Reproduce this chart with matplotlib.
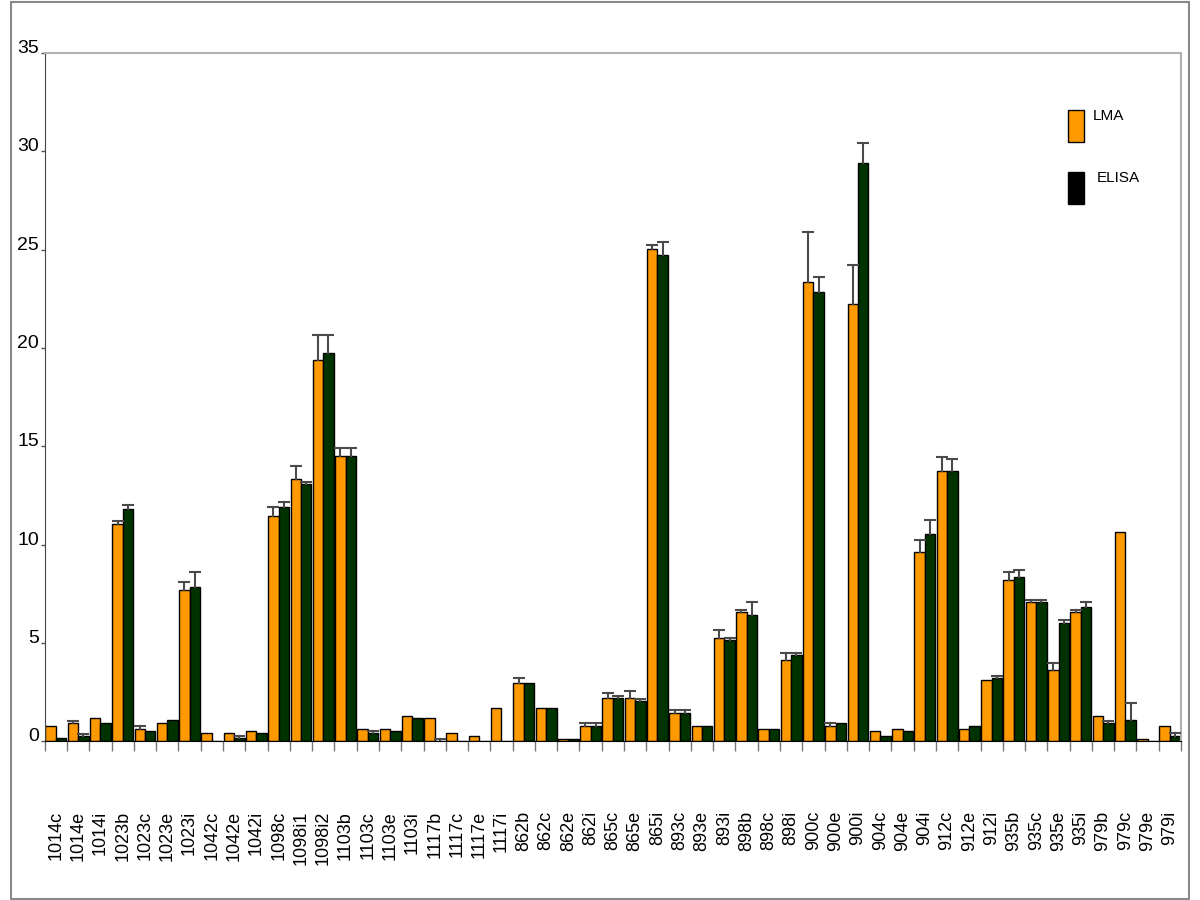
import numpy as np
import matplotlib.pyplot as plt
from matplotlib.patches import Rectangle

plt.rcParams['font.family'] = ['Liberation Sans', 'DejaVu Sans']

muestras = ['1014c', '1014e', '1014i', '1023b', '1023c', '1023e', '1023i',
            '1042c', '1042e', '1042i', '1098c', '1098i1', '1098i2', '1103b',
            '1103c', '1103e', '1103i', '1117b', '1117c', '1117e', '1117i',
            '862b', '862c', '862e', '862i', '865c', '865e', '865i',
            '893c', '893e', '893i', '898b', '898c', '898i', '900c', '900e',
            '900i', '904c', '904e', '904i', '912c', '912e', '912i',
            '935b', '935c', '935e', '935i', '979b', '979c', '979e', '979i']

lma = [0.80, 0.92, 1.17, 11.03, 0.64, 0.92, 7.71, 0.41, 0.41, 0.51,
       11.44, 13.36, 19.38, 14.50, 0.64, 0.64, 1.31, 1.17, 0.41, 0.29,
       1.68, 2.95, 1.68, 0.14, 0.80, 2.19, 2.19, 25.04, 1.42, 0.78,
       5.27, 6.56, 0.64, 4.12, 23.35, 0.80, 22.23, 0.51, 0.64, 9.61,
       13.75, 0.64, 3.10, 8.22, 7.07, 3.61, 6.56, 1.31, 10.65, 0.14, 0.78]
lma_err = [0, 0.1, 0, 0.15, 0.15, 0, 0.37, 0, 0, 0,
           0.5, 0.63, 1.27, 0.41, 0, 0, 0, 0, 0, 0,
           0, 0.25, 0, 0, 0.12, 0.25, 0.39, 0.22, 0.15, 0,
           0.37, 0.1, 0, 0.36, 2.54, 0.12, 2.0, 0, 0, 0.64,
           0.73, 0, 0, 0.37, 0.1, 0.36, 0.1, 0, 0, 0, 0]

elisa = [0.15, 0.29, 0.92, 11.83, 0.51, 1.07, 7.85, 0, 0.17, 0.41,
         11.93, 13.10, 19.77, 14.50, 0.41, 0.51, 1.17, 0.02, 0, 0,
         0, 2.95, 1.68, 0.14, 0.80, 2.19, 2.07, 24.75, 1.42, 0.78,
         5.15, 6.43, 0.64, 4.39, 22.84, 0.92, 29.40, 0.29, 0.51, 10.53,
         13.75, 0.80, 3.24, 8.34, 7.07, 6.04, 6.82, 0.92, 1.07, 0, 0.27]
elisa_err = [0, 0.1, 0, 0.2, 0, 0, 0.76, 0, 0.08, 0,
             0.25, 0.08, 0.88, 0.41, 0.12, 0, 0, 0.12, 0, 0,
             0, 0, 0, 0, 0.12, 0.14, 0.1, 0.63, 0.15, 0,
             0.1, 0.63, 0, 0.08, 0.76, 0, 1.0, 0, 0, 0.73,
             0.6, 0, 0.1, 0.39, 0.1, 0.12, 0.24, 0.1, 0.86, 0, 0.14]

naranja = '#FF9900'
verde = '#003300'

fig = plt.figure(figsize=(12, 9), dpi=100)
ax = fig.add_axes([0.0373, 0.1763, 0.9469, 0.7648])

x = np.arange(len(muestras))
w = 0.47
xo = x + 0.265
xv = x + 0.735

ax.bar(xo, lma, w, color=naranja, edgecolor='black', linewidth=1, zorder=2)
ax.bar(xv, elisa, w, color=verde, edgecolor='black', linewidth=1, zorder=2)

# solo barra de error superior (sin tapa abajo)
for xs, vals, errs in [(xo, lma, lma_err), (xv, elisa, elisa_err)]:
    for xi, v, e in zip(xs, vals, errs):
        if e > 0:
            ax.plot([xi, xi], [v, v + e], color='#4a4a4a', lw=1.5, zorder=3)
            ax.plot(xi, v + e, marker='_', markersize=9, mew=1.5,
                    color='#4a4a4a', zorder=3)

ax.set_xlim(0, len(muestras))
ax.set_ylim(0, 35)
ax.set_yticks(range(0, 36, 5))
ax.set_yticklabels([str(v) for v in range(0, 36, 5)], fontsize=14, va='baseline')
ax.tick_params(axis='y', length=3, width=1, color='#555555', pad=1)

ax.set_xticks(x + 0.5)
ax.set_xticklabels(muestras, rotation=90, fontsize=13, va='top', ha='center')
ax.tick_params(axis='x', which='major', length=0, pad=50)
ax.set_xticks(np.arange(len(muestras) + 1), minor=True)
ax.tick_params(axis='x', which='minor', length=7, width=1, color='#777777')

ax.spines['left'].set_color('#444444')
ax.spines['bottom'].set_color('black')
ax.spines['top'].set_color('#b0b0b0')
ax.spines['right'].set_color('#b0b0b0')
ax.spines['top'].set_linewidth(1.5)
ax.spines['right'].set_linewidth(1.5)

# leyenda
fig.patches.append(Rectangle((1068 / 1200, 1 - 142 / 900), 16 / 1200, 32 / 900,
                             transform=fig.transFigure, facecolor=naranja,
                             edgecolor='black', linewidth=1))
fig.patches.append(Rectangle((1068 / 1200, 1 - 204 / 900), 16 / 1200, 32 / 900,
                             transform=fig.transFigure, facecolor='black',
                             edgecolor='black', linewidth=1))
fig.text(1093 / 1200, 1 - 116 / 900, 'LMA', fontsize=11, va='center')
fig.text(1097 / 1200, 1 - 178 / 900, 'ELISA', fontsize=11, va='center')

# marco exterior
fig.patches.append(Rectangle((11 / 1200, 0.001), 1178 / 1200, 0.997,
                             transform=fig.transFigure, fill=False,
                             edgecolor='#888888', linewidth=1.5))

plt.savefig('out.png', dpi=100)
